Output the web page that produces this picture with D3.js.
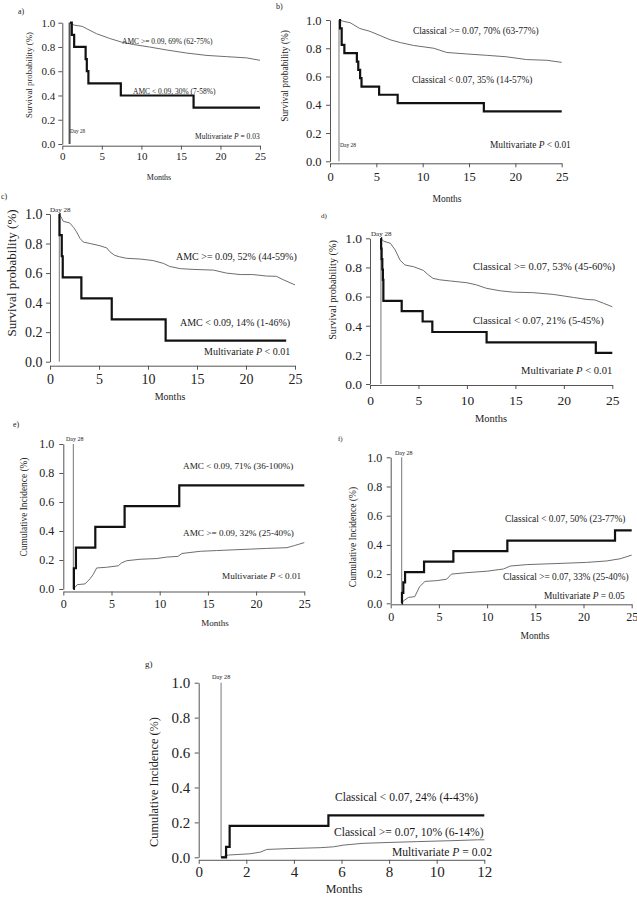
<!DOCTYPE html>
<html><head><meta charset="utf-8">
<script src="https://cdn.jsdelivr.net/npm/d3@7"></script>
<style>body{margin:0;background:#fff}svg{display:block}text{font-family:"Liberation Serif","Times New Roman",serif}</style>
</head><body><svg id="c" width="637" height="900"></svg>
<script>
// ---------- DATA ----------
const monthTicks25 = [0, 5, 10, 15, 20, 25];
const monthTicks12 = [0, 2, 4, 6, 8, 10, 12];
const probTicks = [0, 0.2, 0.4, 0.6, 0.8, 1.0];
const day28 = [0.92, 0.97, 0.95, 1.13, 1.04, 1.14, 0.94]; // months, per panel a..g

// a) survival by AMC
const aHighT = [0.92, 1.5, 2.5, 3.1, 4.3, 6, 7.5, 9, 11, 13.2, 15.7, 18.3, 20.8, 23.3, 25];
const aHighS = [1.0, 0.98, 0.97, 0.95, 0.91, 0.87, 0.84, 0.82, 0.80, 0.775, 0.75, 0.73, 0.72, 0.71, 0.69];
const aLowT = [0.97, 1.2, 1.5, 2.95, 3.1, 3.3, 7.4, 16.6, 25];
const aLowS = [1.0, 0.9, 0.8, 0.7, 0.6, 0.5, 0.4, 0.3, 0.3];
const aLabels = ["AMC >= 0.09, 69% (62-75%)", "AMC < 0.09, 30% (7-58%)", "Multivariate P = 0.03"];

// b) survival by classical monocytes
const bHighT = [0.97, 1.5, 2.2, 3.2, 4.3, 5.4, 6.5, 7.6, 9, 11.2, 12.6, 14.7, 16.9, 19, 21.2, 23.4, 25];
const bHighS = [1.0, 0.99, 0.98, 0.94, 0.92, 0.89, 0.86, 0.84, 0.82, 0.80, 0.77, 0.76, 0.75, 0.74, 0.72, 0.715, 0.70];
const bLowT = [0.97, 1.08, 1.26, 1.55, 2.9, 3.05, 3.25, 3.4, 5.3, 7.3, 16.6, 25];
const bLowS = [1.0, 0.941, 0.824, 0.765, 0.706, 0.647, 0.588, 0.529, 0.471, 0.412, 0.353, 0.353];
const bLabels = ["Classical >= 0.07, 70% (63-77%)", "Classical < 0.07, 35% (14-57%)", "Multivariate P < 0.01"];

// c) survival by AMC
const cHighT = [0.95, 1.2, 1.36, 2.0, 2.4, 2.7, 3.06, 3.4, 4.1, 5.1, 5.8, 6.1, 6.6, 7.1, 7.8, 9.2, 10.5, 11.6, 12.2, 13.3, 14.6, 16.7, 18, 19.4, 20.7, 22.1, 23.1, 23.8, 25];
const cHighS = [1.0, 0.97, 0.95, 0.94, 0.91, 0.88, 0.835, 0.81, 0.80, 0.785, 0.77, 0.745, 0.72, 0.71, 0.70, 0.695, 0.685, 0.665, 0.645, 0.63, 0.625, 0.62, 0.60, 0.59, 0.59, 0.58, 0.578, 0.555, 0.52];
const cLowT = [0.95, 0.97, 1.2, 1.3, 3.2, 6.3, 11.8, 24.1];
const cLowS = [1.0, 0.857, 0.714, 0.571, 0.429, 0.286, 0.143, 0.143];
const cLabels = ["AMC >= 0.09, 52% (44-59%)", "AMC < 0.09, 14% (1-46%)", "Multivariate P < 0.01"];

// d) survival by classical monocytes
const dHighT = [1.13, 1.4, 2.1, 2.6, 3.1, 3.6, 4.5, 5.5, 6, 6.5, 7.2, 8.3, 10, 11, 12, 13.4, 14.8, 16.8, 18.9, 21, 22.4, 23.2, 24.1, 25];
const dHighS = [1.0, 0.98, 0.966, 0.92, 0.85, 0.817, 0.805, 0.78, 0.75, 0.725, 0.715, 0.707, 0.695, 0.68, 0.657, 0.64, 0.63, 0.627, 0.615, 0.594, 0.58, 0.577, 0.554, 0.53];
const dLowT = [1.13, 1.15, 1.2, 1.27, 1.33, 1.38, 3.27, 5.43, 6.43, 12.03, 23.3, 25];
const dLowS = [1.0, 0.929, 0.857, 0.786, 0.714, 0.571, 0.5, 0.429, 0.357, 0.286, 0.214, 0.214];
const dLabels = ["Classical >= 0.07, 53% (45-60%)", "Classical < 0.07, 21% (5-45%)", "Multivariate P < 0.01"];

// e) cumulative incidence by AMC
const eHighT = [1.04, 1.2, 1.45, 2.25, 2.77, 3.1, 3.46, 4.5, 5.7, 6.05, 6.57, 7.95, 9.7, 10.7, 11.9, 12.3, 14.2, 15.9, 17.6, 19.4, 21.1, 23.2, 24, 25];
const eHighS = [0, 0.01, 0.03, 0.035, 0.07, 0.1, 0.145, 0.15, 0.16, 0.18, 0.195, 0.205, 0.21, 0.22, 0.225, 0.245, 0.26, 0.265, 0.27, 0.275, 0.28, 0.285, 0.30, 0.32];
const eLowT = [1.04, 1.1, 1.31, 3.32, 6.36, 12.03, 25];
const eLowS = [0, 0.143, 0.286, 0.429, 0.571, 0.714, 0.714];
const eLabels = ["AMC < 0.09, 71% (36-100%)", "AMC >= 0.09, 32% (25-40%)", "Multivariate P < 0.01"];

// f) cumulative incidence by classical monocytes
const fHighT = [1.14, 1.31, 1.83, 2.5, 3.0, 3.56, 4.77, 5.8, 6.3, 7.9, 10, 11.7, 12.4, 14.1, 16.2, 18.3, 20.3, 22.4, 23.8, 25];
const fHighS = [0, 0.016, 0.04, 0.046, 0.114, 0.15, 0.155, 0.165, 0.2, 0.21, 0.22, 0.235, 0.255, 0.265, 0.27, 0.275, 0.28, 0.29, 0.305, 0.33];
const fLowT = [1.14, 1.17, 1.31, 1.49, 3.46, 6.5, 12.1, 23.27, 25];
const fLowS = [0, 0.071, 0.143, 0.214, 0.286, 0.357, 0.429, 0.5, 0.5];
const fLabels = ["Classical < 0.07, 50% (23-77%)", "Classical >= 0.07, 33% (25-40%)", "Multivariate P = 0.05"];

// g) cumulative incidence (12 months)
const gHighT = [0.94, 1.25, 2.15, 2.6, 2.86, 3.8, 5.1, 5.66, 6.1, 6.9, 8.0, 9.2, 10.6, 11.7, 12];
const gHighS = [0, 0.013, 0.02, 0.03, 0.045, 0.05, 0.055, 0.06, 0.07, 0.08, 0.085, 0.09, 0.095, 0.1, 0.1];
const gLowT = [0.94, 1.15, 1.3, 5.45, 12];
const gLowS = [0, 0.06, 0.18, 0.24, 0.24];
const gLabels = ["Classical < 0.07, 24% (4-43%)", "Classical >= 0.07, 10% (6-14%)", "Multivariate P = 0.02"];

const panelTags = ["a)", "b)", "c)", "d)", "e)", "f)", "g)"];
const survTitle = "Survival probability (%)";
const cumTitle = "Cumulative Incidence (%)";
const xTitle = "Months";
const dayText = "Day 28";

// ---------- LAYOUT ----------
const svg = d3.select("#c");
const zip = (t, s) => t.map((v, i) => [v, s[i]]);

const panels = [
  {tag:0, L:62.3, R:260, T:22.7, B:144, xMax:25, ticks:monthTicks25, tf:11, tPadX:3, tPadY:3, xOff:1.7,
   yt:survTitle, ytx:29, yty:75, ytf:8.8, mx:159, my:180, mf:8, lx:18, ly:14, lf:8,
   d:day28[0], dw:2, dc:"#555", dtx:70, dty:133, dtf:5.2,
   hi:zip(aHighT,aHighS), lo:zip(aLowT,aLowS), labs:aLabels,
   lp:[[122,43.5],[133,93.5],[195,138.5]], af:7.5},
  {tag:1, L:330, R:561.7, T:20, B:161.3, xMax:25, ticks:monthTicks25, tf:12.5, tPadX:4.5, tPadY:4.5, xOff:2,
   yt:survTitle, ytx:285, yty:76, ytf:9.4, mx:447, my:202, mf:9.5, lx:276, ly:9, lf:8,
   d:day28[1], dw:1, dc:"#777", dtx:340, dty:147, dtf:5.5,
   hi:zip(bHighT,bHighS), lo:zip(bLowT,bLowS), labs:bLabels,
   lp:[[413,34],[412,83],[490,148]], af:9.4},
  {tag:2, L:50, R:295, T:214, B:361.7, xMax:25, ticks:monthTicks25, tf:14, tPadX:4.5, tPadY:3.5, xOff:4,
   yt:survTitle, ytx:11, yty:273, ytf:13, mx:170, my:400, mf:10, lx:1, ly:199, lf:8,
   d:day28[2], dw:1, dc:"#777", dtx:50, dty:212, dtf:7,
   hi:zip(cHighT,cHighS), lo:zip(cLowT,cLowS), labs:cLabels,
   lp:[[176,259.5],[180,326],[204,355]], af:10},
  {tag:3, L:370, R:612.3, T:238.3, B:384, xMax:25, ticks:monthTicks25, tf:13.5, tPadX:6.5, tPadY:4, xOff:1,
   yt:survTitle, ytx:332, yty:290, ytf:10.2, mx:491, my:422, mf:10.5, lx:321, ly:218, lf:7,
   d:day28[3], dw:1, dc:"#777", dtx:371, dty:235.5, dtf:7,
   hi:zip(dHighT,dHighS), lo:zip(dLowT,dLowS), labs:dLabels,
   lp:[[473,270],[473,324],[521,373.5]], af:10.6},
  {tag:4, L:63.3, R:304.3, T:444, B:589, xMax:25, ticks:monthTicks25, tf:12, tPadX:3.5, tPadY:5, xOff:2.5,
   yt:cumTitle, ytx:24, yty:507, ytf:9.4, mx:215, my:626, mf:9, lx:13, ly:427, lf:8,
   d:day28[4], dw:1, dc:"#777", dtx:66, dty:440.5, dtf:6,
   hi:zip(eHighT,eHighS), lo:zip(eLowT,eLowS), labs:eLabels,
   lp:[[183,469],[183,535.7],[222,579]], af:9.2},
  {tag:5, L:390.7, R:631.7, T:457.3, B:603.3, xMax:25, ticks:monthTicks25, tf:12, tPadX:4.5, tPadY:4.5, xOff:1,
   yt:cumTitle, ytx:353, yty:537, ytf:9.5, mx:535, my:639, mf:9.5, lx:338, ly:441, lf:7,
   d:day28[5], dw:1, dc:"#777", dtx:395, dty:455, dtf:6,
   hi:zip(fHighT,fHighS), lo:zip(fLowT,fLowS), labs:fLabels,
   lp:[[505,521.5],[503,580],[544,599]], af:9.4},
  {tag:6, L:198.7, R:484.3, T:682.7, B:857.3, xMax:12, ticks:monthTicks12, tf:15, tPadX:3, tPadY:4.5, xOff:2.5,
   yt:cumTitle, ytx:154, yty:782, ytf:12.3, mx:344, my:893, mf:12, lx:145, ly:667, lf:9,
   d:day28[6], dw:1, dc:"#777", dtx:212, dty:678.5, dtf:6.3,
   hi:zip(gHighT,gHighS), lo:zip(gLowT,gLowS), labs:gLabels,
   lp:[[335,800.5],[334,835.5],[392,855.5]], af:11.6}
];

function addRichText(g, str, x, y, size) {
  const t = g.append("text").attr("x", x).attr("y", y).attr("font-size", size).attr("fill", "#1a1a1a");
  const i = str.indexOf(" P ");
  if (i >= 0) {
    t.append("tspan").text(str.slice(0, i + 1));
    t.append("tspan").attr("font-style", "italic").text("P");
    t.append("tspan").text(str.slice(i + 2));
  } else t.text(str);
}

panels.forEach(p => {
  const g = svg.append("g");
  const x = d3.scaleLinear().domain([0, p.xMax]).range([p.L, p.R]);
  const y = d3.scaleLinear().domain([0, 1]).range([p.B, p.T]);

  // axes
  const ya = g.append("g").attr("transform", `translate(${p.L},0)`)
    .call(d3.axisLeft(y).tickValues(probTicks).tickFormat(d3.format(".1f")).tickSize(4).tickSizeOuter(0).tickPadding(p.tPadY));
  const xa = g.append("g").attr("transform", `translate(0,${p.B + p.xOff})`)
    .call(d3.axisBottom(x).tickValues(p.ticks).tickFormat(d3.format("d")).tickSize(4).tickSizeOuter(0).tickPadding(p.tPadX));
  [ya, xa].forEach(a => {
    a.select(".domain").attr("stroke", "#555").attr("stroke-width", 1);
    a.selectAll(".tick line").attr("stroke", "#555");
    a.selectAll(".tick text").attr("font-family", "Liberation Serif").attr("font-size", p.tf).attr("fill", "#222");
  });

  // day 28 line
  g.append("line").attr("x1", x(p.d)).attr("x2", x(p.d)).attr("y1", y(0)).attr("y2", y(1))
    .attr("stroke", p.dc).attr("stroke-width", p.dw);
  g.append("text").attr("x", p.dtx).attr("y", p.dty).attr("font-size", p.dtf).attr("fill", "#222").text(dayText);

  // curves
  const lineGray = d3.line().x(d => x(d[0])).y(d => y(d[1])).curve(d3.curveLinear);
  const lineStep = d3.line().x(d => x(d[0])).y(d => y(d[1])).curve(d3.curveStepAfter);
  g.append("path").attr("d", lineGray(p.hi)).attr("fill", "none").attr("stroke", "#6e6e6e").attr("stroke-width", 1);
  g.append("path").attr("d", lineStep(p.lo)).attr("fill", "none").attr("stroke", "#111").attr("stroke-width", 2.2);

  // annotations
  p.labs.forEach((s, i) => addRichText(g, s, p.lp[i][0], p.lp[i][1], p.af));

  // titles
  g.append("text").attr("transform", `translate(${p.ytx},${p.yty}) rotate(-90)`).attr("text-anchor", "middle")
    .attr("dominant-baseline", "central").attr("font-size", p.ytf).attr("fill", "#222").text(p.yt);
  g.append("text").attr("x", p.mx).attr("y", p.my).attr("text-anchor", "middle").attr("font-size", p.mf).attr("fill", "#222").text(xTitle);
  g.append("text").attr("x", p.lx).attr("y", p.ly).attr("font-size", p.lf).attr("fill", "#222").text(panelTags[p.tag]);
});
</script></body></html>
